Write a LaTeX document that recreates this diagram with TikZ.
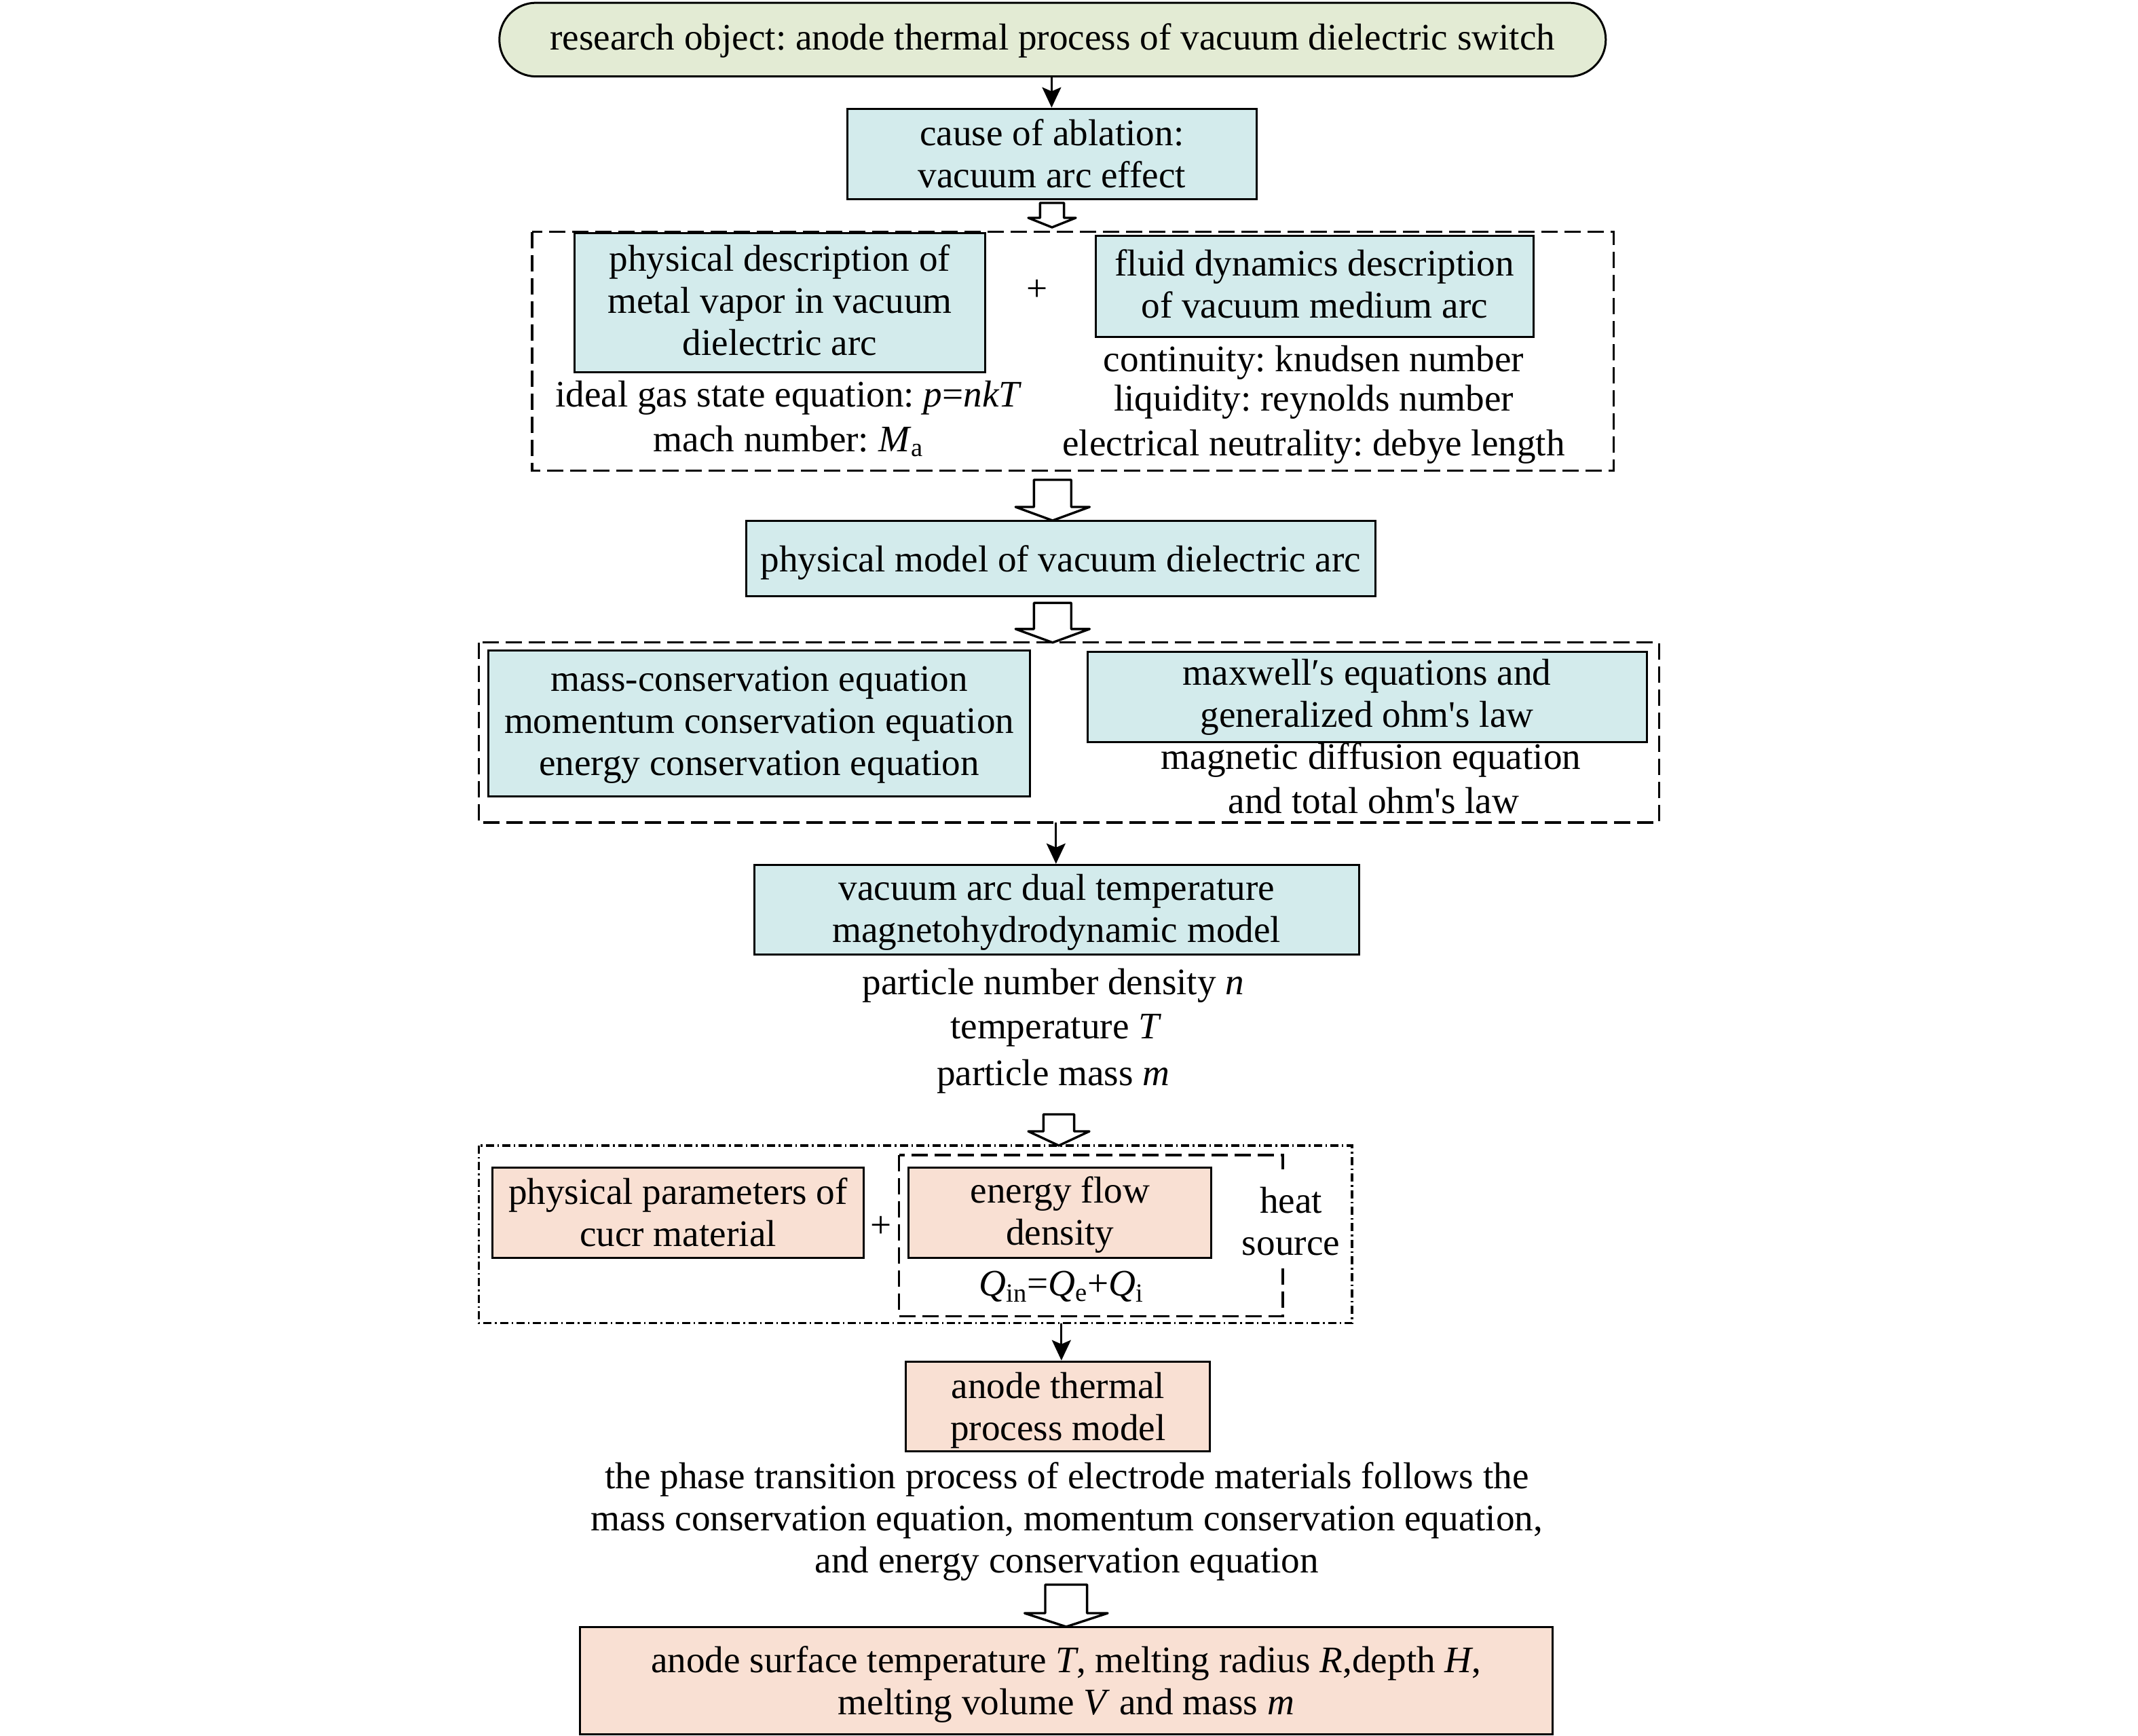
\documentclass[tikz,border=0pt]{standalone}
\usepackage{fontspec}
\setmainfont{Liberation Serif}[Ligatures=TeXOff]
\usetikzlibrary{arrows.meta}
\definecolor{greenC}{HTML}{E3EBD4}
\definecolor{blueC}{HTML}{D3EBEC}
\definecolor{pinkC}{HTML}{F9E0D3}
\tikzset{
  box/.style={draw, line width=1.5pt, inner sep=0pt, align=center, text depth=0pt},
  bluebox/.style={box, fill=blueC},
  pinkbox/.style={box, fill=pinkC},
  lone/.style={text height=19pt},
  ltwo/.style={text height=50pt},
  lthree/.style={text height=81pt},
  txt/.style={inner sep=0pt, align=center},
  grp/.style={line width=1.6pt, dash pattern=on 12pt off 5pt},
  grpdd/.style={line width=1.6pt, dash pattern=on 6pt off 2.5pt on 1.2pt off 2.5pt},
  conn/.style={line width=1.4pt, -{Stealth[length=15pt,width=14pt,inset=3pt]}},
  hollow/.style={line width=1.7pt, fill=white, line join=round}
}
\newcommand\harrow[6]{\draw[hollow] (#1-#4,#2) -- (#1+#4,#2) -- (#1+#4,#3-#6) -- (#1+#5,#3-#6) -- (#1,#3) -- (#1-#5,#3-#6) -- (#1-#4,#3-#6) -- cycle;}
\begin{document}
\begin{tikzpicture}[x=1pt,y=-1pt, font=\fontsize{27.6}{31}\selectfont\frenchspacing]
\useasboundingbox (0,0) rectangle (1575,1279);
% top
\node[box, text height=15pt, fill=greenC, rounded corners=27pt, minimum width=815pt, minimum height=54.3pt] (pill) at (775.4,29.2) {research object: anode thermal process of vacuum dielectric switch};
\node[bluebox, ltwo, minimum width=301.5pt, minimum height=66.7pt] (cause) at (774.9,113.4) {cause of ablation:\\vacuum arc effect};
\coordinate (a1) at (774.7,56.5);
\draw[conn] (a1) -- (a1 |- cause.north);
\harrow{775}{149.5}{167.5}{8.8}{17.5}{7}
% group 1
\draw[grp] (392,170.9) rectangle (1188.9,346.7);
\node[bluebox, text height=77pt, minimum width=302.5pt, minimum height=102.5pt] (phys) at (574.4,223.1) {physical description of\\metal vapor in vacuum\\dielectric arc};
\node[bluebox, text height=46pt, minimum width=322.6pt, minimum height=74.4pt] (fluid) at (968.3,211) {fluid dynamics description\\of vacuum medium arc};
\node[txt] (plus1) at (763.8,214) {+};
\node[txt] (ideal) at (580.9,293) {ideal gas state equation: \textit{p}=\textit{nkT}};
\node[txt] (mach) at (580.9,325) {mach number: \textit{M}\textsubscript{a}};
\node[txt] (cont) at (967.8,267) {continuity: knudsen number};
\node[txt] (liq) at (967.8,296) {liquidity: reynolds number};
\node[txt] (elec) at (967.8,329) {electrical neutrality: debye length};
\harrow{775.4}{353.5}{383.5}{13.7}{27.3}{10}
\node[bluebox, lone, minimum width=463.3pt, minimum height=55.5pt] (pmodel) at (781.4,411.5) {physical model of vacuum dielectric arc};
\harrow{775.4}{444.2}{473.4}{13.7}{27.3}{10}
% group 2
\draw[grp] (352.8,473.4) rectangle (1222.1,606);
\coordinate (g2b) at (777.9,606);
\node[bluebox, text height=76pt, minimum width=399pt, minimum height=107.5pt] (cons) at (559.3,533.2) {mass-conservation equation\\momentum conservation equation\\energy conservation equation};
\node[bluebox, text height=44pt, minimum width=412pt, minimum height=66.3pt] (maxw) at (1007,513.6) {maxwell′s equations and\\generalized ohm's law};
\node[txt] (magd) at (1010,560) {magnetic diffusion equation};
\node[txt] (tohm) at (1012,590) {and total ohm's law};
\node[bluebox, text height=48pt, minimum width=445.2pt, minimum height=66.3pt] (mhd) at (778.4,670.3) {vacuum arc dual temperature\\magnetohydrodynamic model};
\draw[conn] (g2b) -- (g2b |- mhd.north);
\node[txt] (pn) at (775.9,726) {particle number density \textit{n}};
\node[txt] (pt) at (777.9,759) {temperature \textit{T}};
\node[txt] (pm) at (775.9,793) {particle mass \textit{m}};
\harrow{780}{821}{844}{11.3}{22.5}{10.5}
% group 3
\draw[grpdd] (352.8,844) rectangle (996,974.9);
\coordinate (g3b) at (781.9,974.9);
\draw[grp] (662.3,851) rectangle (945,969.8);
\node[pinkbox, ltwo, minimum width=273.4pt, minimum height=66.6pt] (cucr) at (499.5,893.3) {physical parameters of\\cucr material};
\node[txt] (plus2) at (649.2,904) {+};
\node[pinkbox, text height=48pt, minimum width=223.1pt, minimum height=66.6pt] (eflow) at (780.9,893.3) {energy flow\\density};
\node[txt] (q) at (781.9,948) {\textit{Q}\textsubscript{in}=\textit{Q}\textsubscript{e}+\textit{Q}\textsubscript{i}};
\node[txt, fill=white, inner ysep=9pt, inner xsep=2pt] (heat) at (951,900) {heat\\source};
\node[pinkbox, ltwo, minimum width=224.1pt, minimum height=66.3pt] (anode) at (779.4,1036.2) {anode thermal\\process model};
\draw[conn] (g3b) -- (g3b |- anode.north);
\node[txt] (phase) at (785.9,1121) {the phase transition process of electrode materials follows the\\mass conservation equation, momentum conservation equation,\\and energy conservation equation};
\harrow{785.4}{1167.5}{1198.5}{15.4}{30.6}{10}
\node[pinkbox, ltwo, minimum width=716.6pt, minimum height=79pt] (final) at (785.4,1238) {anode surface temperature \textit{T}, melting radius \textit{R},depth \textit{H},\\melting volume \textit{V} and mass \textit{m}};
\end{tikzpicture}
\end{document}
